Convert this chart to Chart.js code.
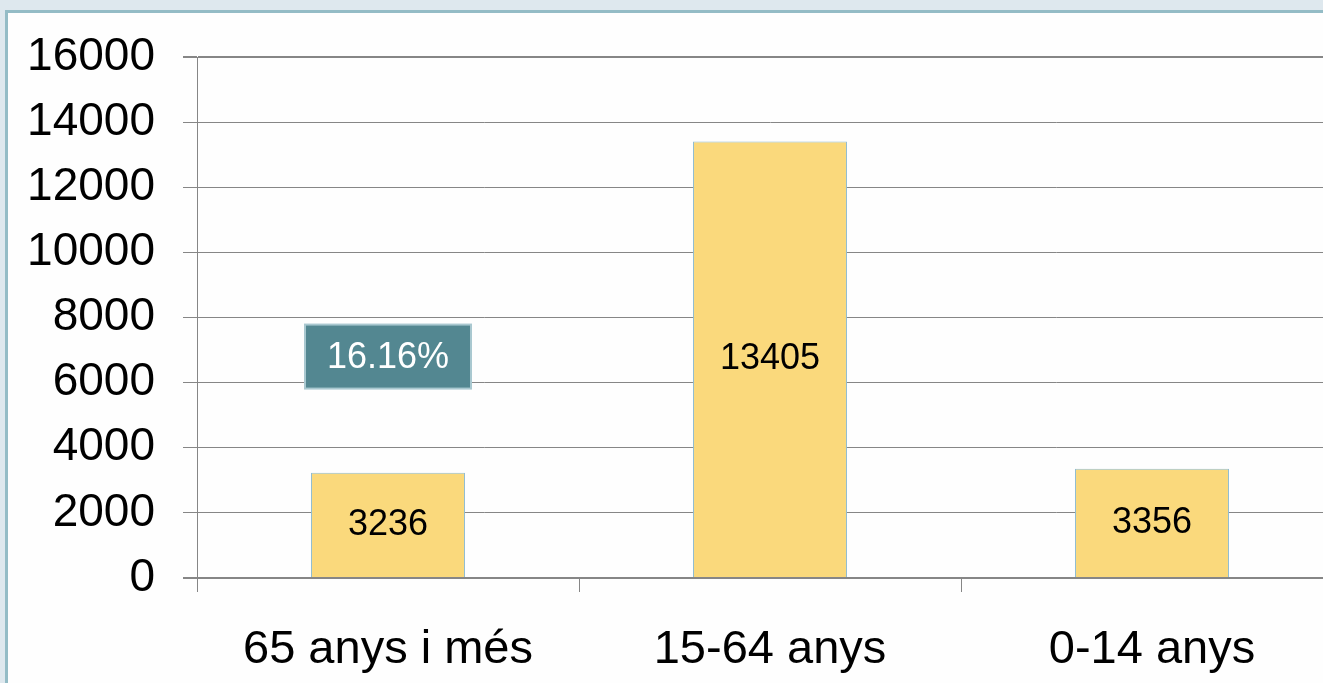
<!DOCTYPE html>
<html>
<head>
<meta charset="utf-8">
<script src="https://cdn.jsdelivr.net/npm/chart.js@4"></script>
<style>
  html, body { margin: 0; padding: 0; background: #dee8ee; overflow: hidden; width: 1323px; height: 683px; }
  #panel {
    position: absolute; left: 5px; top: 10px; width: 1400px; height: 700px;
    background: #fefefe; border-left: 3px solid #94bcc6; border-top: 3px solid #94bcc6;
  }
  #wrap { position: absolute; left: 0; top: 0; width: 1400px; height: 683px; }
</style>
</head>
<body>
<div id="panel"></div>
<div id="wrap"><canvas id="chart" width="1400" height="683"></canvas></div>
<script>
  const categories = ['65 anys i més', '15-64 anys', '0-14 anys'];
  const population = [3236, 13405, 3356];
  const yTicks = [0, 2000, 4000, 6000, 8000, 10000, 12000, 14000, 16000];
  const shareLabel = '16.16%';
  const shareAt = { category: 0, value: 6800 };

  const FONT = '"Liberation Sans", Arial, sans-serif';

  // values written in the middle of each bar, plus the teal percentage box
  const labelsPlugin = {
    id: 'labels',
    afterDatasetsDraw(chart) {
      const ctx = chart.ctx;
      const meta = chart.getDatasetMeta(0);
      ctx.save();
      ctx.font = '36px ' + FONT;
      ctx.fillStyle = '#000';
      ctx.textAlign = 'center';
      ctx.textBaseline = 'middle';
      meta.data.forEach((bar, i) => {
        ctx.fillText(String(population[i]), bar.x, (bar.y + bar.base) / 2);
      });

      const x = chart.scales.x.getPixelForValue(shareAt.category);
      const y = chart.scales.y.getPixelForValue(shareAt.value);
      const w = 166, h = 64;
      ctx.fillStyle = '#538791';
      ctx.fillRect(x - w / 2, y - h / 2, w, h);
      ctx.strokeStyle = '#a9c8d0';
      ctx.lineWidth = 2;
      ctx.strokeRect(x - w / 2, y - h / 2, w, h);
      ctx.fillStyle = '#ffffff';
      ctx.fillText(shareLabel, x, y + 2);
      ctx.restore();
    }
  };

  new Chart(document.getElementById('chart'), {
    type: 'bar',
    data: {
      labels: categories,
      datasets: [{
        data: population,
        backgroundColor: '#fad97c',
        borderColor: '#8fbcd0',
        borderWidth: 1,
        barPercentage: 0.403,
        categoryPercentage: 1
      }]
    },
    options: {
      responsive: false,
      animation: false,
      layout: { padding: { top: 57, right: 57, bottom: 0, left: 0 } },
      plugins: { legend: { display: false }, tooltip: { enabled: false } },
      scales: {
        x: {
          offset: true,
          grid: {
            offset: true,
            drawOnChartArea: false,
            drawTicks: true,
            tickLength: 14,
            color: '#868686',
            lineWidth: 1
          },
          border: { display: false },
          ticks: {
            color: '#000',
            font: { family: FONT, size: 47 },
            padding: 30,
            maxRotation: 0
          },
          afterFit(axis) { axis.height = 105; }
        },
        y: {
          min: 0,
          max: 16000,
          afterBuildTicks(axis) { axis.ticks = yTicks.map(v => ({ value: v })); },
          grid: {
            color: '#868686',
            lineWidth: (c) => (c.tick && (c.tick.value === 0 || c.tick.value === 16000)) ? 2 : 1,
            tickLength: 14
          },
          border: { display: true, color: '#868686', width: 1 },
          ticks: {
            color: '#000',
            font: { family: FONT, size: 46 },
            padding: 28,
            callback: (v) => String(v)
          },
          afterFit(axis) { axis.width = 197; }
        }
      }
    },
    plugins: [labelsPlugin]
  });
</script>
</body>
</html>
